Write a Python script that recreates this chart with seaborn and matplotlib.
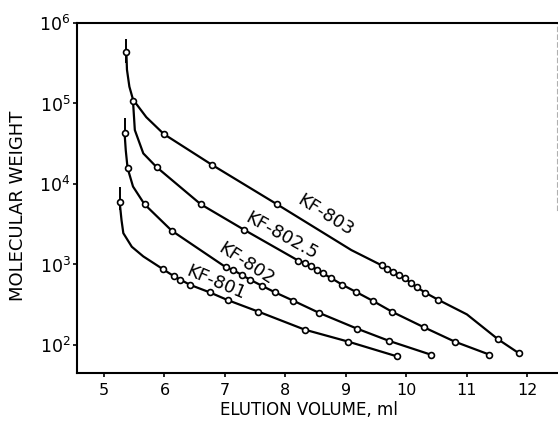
import numpy as np
import pandas as pd
import matplotlib
matplotlib.use("Agg")
import matplotlib.pyplot as plt
import seaborn as sns

# ---- data (elution volume in ml, molecular weight) ----
kf801_x = [5.26, 5.98, 6.15, 6.26, 6.42, 6.75, 7.05, 7.55, 8.32, 9.04, 9.85]
kf801_mw = [5900, 870, 720, 650, 560, 450, 360, 260, 155, 110, 72]
kf801_trace_x = [5.29, 5.32, 5.46, 5.65]
kf801_trace_mw = [3550, 2450, 1660, 1260]

kf802_x = [5.34, 5.39, 5.67, 6.12, 7.01, 7.14, 7.28, 7.41, 7.62, 7.83, 8.13,
           8.56, 9.18, 9.72, 10.40]
kf802_mw = [43600, 15800, 5600, 2630, 930, 850, 740, 650, 540, 450, 355,
            250, 160, 112, 76]
kf802_trace_x = [5.36, 5.48]
kf802_trace_mw = [26300, 9300]

kf8025_x = [5.48, 5.87, 6.60, 7.32, 8.21, 8.32, 8.43, 8.53, 8.62, 8.76, 8.94,
            9.17, 9.44, 9.77, 10.29, 10.80, 11.37]
kf8025_mw = [107000, 16200, 5600, 2690, 1120, 1050, 955, 850, 775, 675, 560,
             455, 355, 257, 166, 110, 76]
kf8025_trace_x = [5.51, 5.65]
kf8025_trace_mw = [46800, 24000]

kf803_x = [5.37, 5.99, 6.78, 7.86, 9.59, 9.68, 9.78, 9.88, 9.98, 10.07, 10.17,
           10.31, 10.53, 11.52, 11.86]
kf803_mw = [436000, 41700, 17400, 5600, 977, 890, 813, 741, 676, 589, 525,
            447, 363, 117, 79]
kf803_trace_x = [5.38, 5.42, 5.48, 5.70, 9.09, 11.00]
kf803_trace_mw = [263000, 162000, 112000, 67600, 1510, 240]

# error bars on the first point of three columns
err_x = [5.37, 5.34, 5.26]
err_lo = [316000, 35500, 4800]
err_hi = [631000, 66000, 9300]

series_names = ["KF-801", "KF-802", "KF-802.5", "KF-803"]
label_x = [6.85, 7.35, 7.93, 8.67]
label_mw = [590, 1014, 2260, 4070]
label_rot = [-23, -33, -29, -32]

x_ticks = [5, 6, 7, 8, 9, 10, 11, 12]
y_ticks = [1e2, 1e3, 1e4, 1e5, 1e6]
y_ticklabels = [r"$10^{2}$", r"$10^{3}$", r"$10^{4}$", r"$10^{5}$", r"$10^{6}$"]

# ---- build tables ----
pts = []
trace = []
for name, xs, ys, tx, ty in [
    ("KF-801", kf801_x, kf801_mw, kf801_trace_x, kf801_trace_mw),
    ("KF-802", kf802_x, kf802_mw, kf802_trace_x, kf802_trace_mw),
    ("KF-802.5", kf8025_x, kf8025_mw, kf8025_trace_x, kf8025_trace_mw),
    ("KF-803", kf803_x, kf803_mw, kf803_trace_x, kf803_trace_mw),
]:
    for a, b in zip(xs, ys):
        pts.append((name, a, b))
    allp = sorted(list(zip(xs, ys)) + list(zip(tx, ty)), key=lambda p: p[0])
    for a, b in allp:
        trace.append((name, a, b))
df_pts = pd.DataFrame(pts, columns=["series", "volume", "mw"])
df_trace = pd.DataFrame(trace, columns=["series", "volume", "mw"])

sns.set_style("ticks")
plt.rcParams["font.family"] = ["DejaVu Sans"]

fig = plt.figure(figsize=(5.58, 4.21), dpi=100)
ax = fig.add_axes([77 / 558, 48 / 421, 480 / 558, 350 / 421])

ax.vlines(err_x, err_lo, err_hi, color="black", lw=1.4, zorder=2)
sns.lineplot(data=df_trace, x="volume", y="mw", units="series", estimator=None,
             sort=False, color="black", lw=1.6, ax=ax, zorder=2)
sns.scatterplot(data=df_pts, x="volume", y="mw", marker="o", s=18,
                facecolor="white", edgecolor="black", linewidth=1.2,
                ax=ax, zorder=3)

ax.set_yscale("log")
ax.set_xlim(4.554, 12.49)
ax.set_ylim(10 ** 1.652, 1e6)
ax.set_xticks(x_ticks)
ax.set_xticklabels([str(t) for t in x_ticks])
ax.set_yticks(y_ticks)
ax.set_yticklabels(y_ticklabels)
ax.yaxis.set_minor_locator(matplotlib.ticker.NullLocator())

for name, lx, ly, r in zip(series_names, label_x, label_mw, label_rot):
    ax.text(lx, ly, name, rotation=r, rotation_mode="anchor", ha="center",
            va="center", fontsize=13, color="black")

ax.set_xlabel("ELUTION VOLUME, ml", fontsize=12, va="center", color="black")
ax.set_ylabel("MOLECULAR WEIGHT", fontsize=13, va="center", color="black")
ax.xaxis.set_label_coords((309 - 77) / 480, (373 - 410) / 350)
ax.yaxis.set_label_coords((18 - 77) / 480, (373 - 206) / 350)

ax.tick_params(axis="x", direction="out", length=3, width=1.2, pad=4,
               labelsize=11.5, colors="black")
ax.tick_params(axis="y", direction="out", length=3, width=1.2, pad=1.5,
               labelsize=12.5, colors="black")

for s in ["left", "bottom", "top"]:
    ax.spines[s].set_color("black")
    ax.spines[s].set_linewidth(1.5)
ax.spines["right"].set_color("#b0b0b0")
ax.spines["right"].set_linewidth(0.8)
ax.spines["right"].set_linestyle((0, (4, 3)))
ax.spines["right"].set_bounds(4800, 1e6)

fig.savefig("out.png", dpi=100)
